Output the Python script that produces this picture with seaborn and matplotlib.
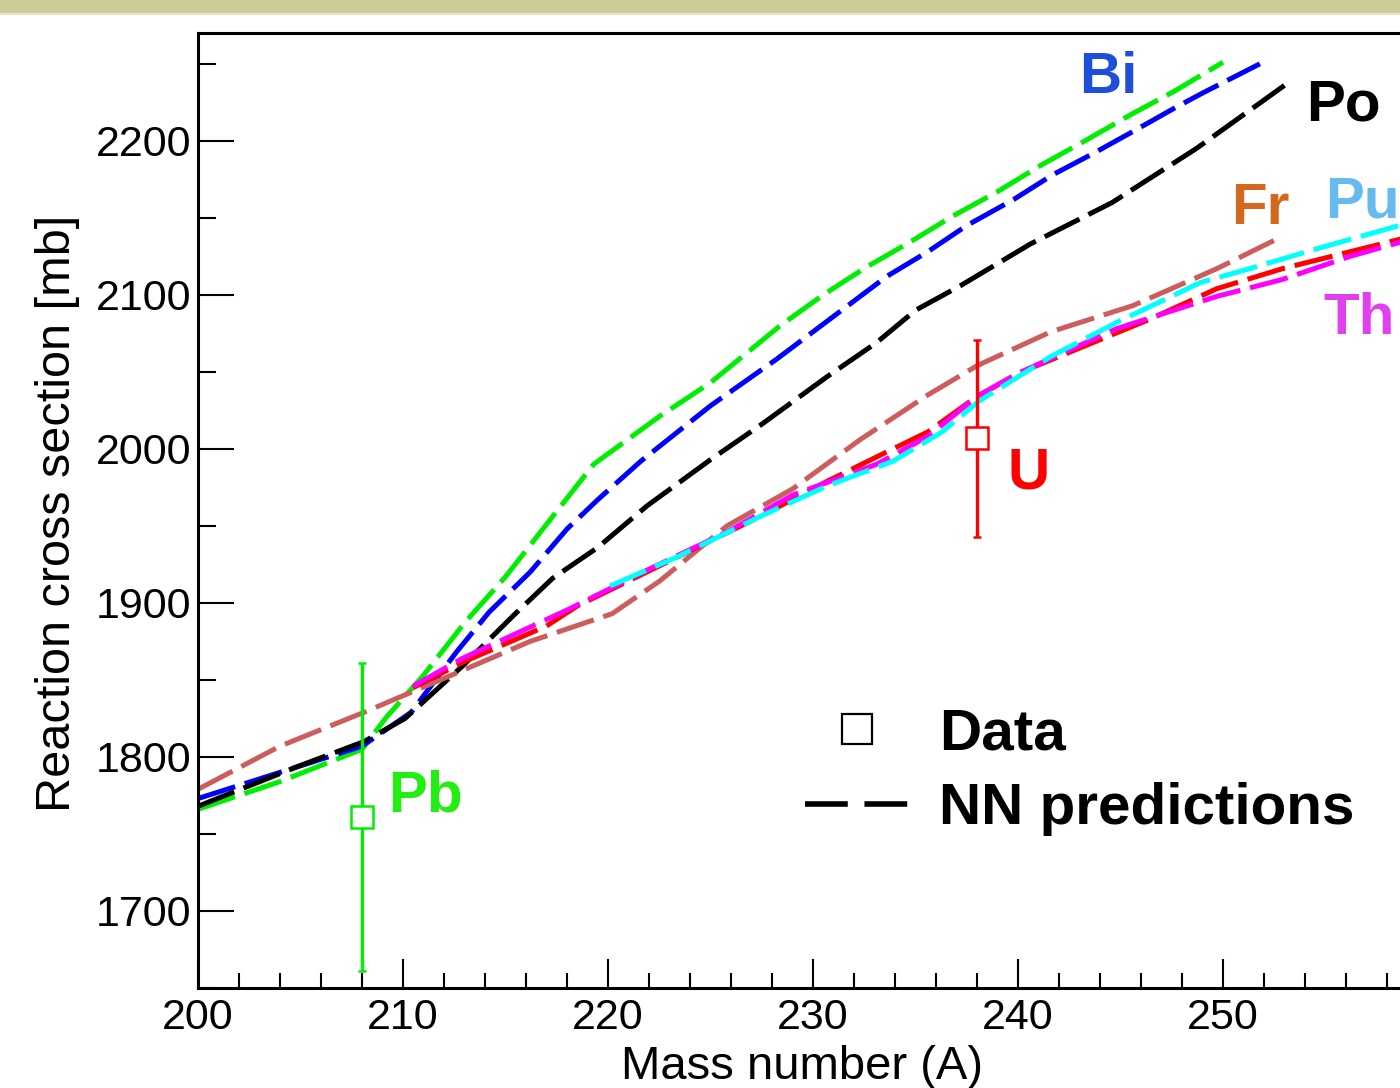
import pandas as pd
import seaborn as sns
import matplotlib.pyplot as plt
from matplotlib.lines import Line2D
from matplotlib.patches import Rectangle
from matplotlib.ticker import MultipleLocator

# NN predictions (mass number A, sigma in mb)
pb_A = [200, 204, 208, 209.2, 211, 213, 215, 217, 219.3, 222.5, 225, 228.4, 230.5, 232.6, 234.7,
        236.8, 239, 241.1, 243.4, 245.5, 247.6, 250]
pb_s = [1766, 1784, 1805, 1826, 1853, 1887, 1917, 1951, 1990, 2021, 2043, 2080, 2100, 2118, 2134,
        2151, 2167, 2184, 2201, 2217, 2232, 2251]

bi_A = [200, 204, 208, 210.4, 212.6, 214.2, 216.2, 218, 219.5, 221.6, 225, 228.2, 231.7, 233.6,
        235.6, 237.5, 239.8, 241.7, 243.7, 245.6, 247.6, 249, 251.8]
bi_s = [1773, 1790, 1807, 1829, 1868, 1894, 1920, 1948, 1967, 1992, 2028, 2058, 2093, 2112,
        2128, 2145, 2162, 2178, 2192, 2206, 2221, 2231, 2250]

po_A = [200, 204.9, 208.1, 210.1, 211.5, 212.9, 215.4, 217.3, 219.5, 221.9, 225, 227.5, 230.7,
        233.1, 235, 237.2, 240.6, 244.6, 248.7, 253]
po_s = [1768, 1794, 1810, 1825, 1842, 1859, 1892, 1916, 1936, 1963, 1993, 2016, 2047,
        2069, 2090, 2106, 2133, 2160, 2195, 2236]

fr_A = [200, 204, 208.1, 212.7, 216.2, 220.2, 222.5, 225.8, 229, 232.3, 235.6, 238, 241.6, 245.6, 249.7, 252.9]
fr_s = [1779, 1807, 1829, 1855, 1875, 1893, 1914, 1950, 1974, 2006, 2035, 2054, 2076, 2093, 2117, 2138]

u_A = [210.5, 213, 214.4, 217, 218.5, 222.5, 227.4, 230.7, 233.9, 235.6, 238, 240, 246.4, 249.7,
       252.9, 256.2, 258.6, 260]
u_s = [1845, 1862, 1870, 1885, 1898, 1924, 1956, 1979, 2000, 2011, 2034, 2049, 2084, 2104,
       2117, 2128, 2136, 2140]

th_A = [210.5, 212.9, 218.1, 221.7, 225.8, 229, 233.1, 235.6, 238, 240, 244.8, 249.7, 252.9,
        256.2, 258.6, 260]
th_s = [1846, 1864, 1896, 1920, 1946, 1970, 1990, 2008, 2034, 2049, 2078, 2099, 2110,
        2125, 2134, 2139]

pu_A = [220.1, 223.4, 227.4, 230.7, 233.9, 236.3, 238.1, 241.6, 244.8, 248.9, 251.3, 254.6, 258.6, 260]
pu_s = [1911, 1930, 1956, 1976, 1992, 2011, 2031, 2060, 2082, 2108, 2117, 2130, 2145, 2150]

# measured data points
data_A = [208, 238]
data_s = [1761, 2007]
data_err = [100, 64]
data_col = ["#00ee00", "#ff0000"]

nuclei = ["Pb", "Bi", "Po", "Fr", "U", "Th", "Pu"]
line_col = {"Pb": "#00ee00", "Bi": "#0000ff", "Po": "#000000", "Fr": "#cd5c5c",
            "U": "#ff0000", "Th": "#ff00ff", "Pu": "#00ffff"}

frames = []
for name, xs, ys in [("Pb", pb_A, pb_s), ("Bi", bi_A, bi_s), ("Po", po_A, po_s),
                     ("Fr", fr_A, fr_s), ("U", u_A, u_s), ("Th", th_A, th_s),
                     ("Pu", pu_A, pu_s)]:
    frames.append(pd.DataFrame({"A": xs, "sigma": ys, "nucleus": name}))
df = pd.concat(frames, ignore_index=True)

sns.set_theme(style="white")
plt.rcParams["font.family"] = ["Liberation Sans", "DejaVu Sans"]
plt.rcParams["text.color"] = "black"
plt.rcParams["axes.labelcolor"] = "black"
plt.rcParams["xtick.color"] = "black"
plt.rcParams["ytick.color"] = "black"

fig = plt.figure(figsize=(14, 10.88), dpi=100)
fig.patches.append(Rectangle((0, 1 - 13 / 1088), 1, 13 / 1088, transform=fig.transFigure,
                             facecolor="#cdcc99", edgecolor="none"))
fig.patches.append(Rectangle((0, 1 - 15 / 1088), 1, 2 / 1088, transform=fig.transFigure,
                             facecolor="#e6e6c4", edgecolor="none"))

ax = fig.add_axes([198 / 1400, 100 / 1088, 1230 / 1400, 955 / 1088])

sns.lineplot(data=df, x="A", y="sigma", hue="nucleus", hue_order=nuclei,
             palette=line_col, style="nucleus", style_order=nuclei,
             dashes={n: (7.8, 2.0) for n in nuclei}, linewidth=3.6,
             sort=False, estimator=None, legend=False, ax=ax)

for a, s, e, c in zip(data_A, data_s, data_err, data_col):
    ax.errorbar([a], [s], yerr=[e], fmt="s", color=c, mfc="white", mec=c,
                ms=15.5, mew=1.8, elinewidth=2.4, capsize=3, capthick=3.2, zorder=5)

ax.set_xlim(200, 260)
ax.set_ylim(1650, 2270)
ax.set_xticks(range(200, 251, 10))
ax.xaxis.set_minor_locator(MultipleLocator(2))
ax.yaxis.set_major_locator(MultipleLocator(100))
ax.yaxis.set_minor_locator(MultipleLocator(50))
ax.tick_params(axis="x", which="major", direction="in", length=21, width=1.5,
               labelsize=31, pad=7, bottom=True, top=False)
ax.tick_params(axis="x", which="minor", direction="in", length=11, width=1.5,
               bottom=True, top=False)
ax.tick_params(axis="y", which="major", direction="in", length=26, width=1.5,
               labelsize=31, pad=5, left=True, right=False)
ax.tick_params(axis="y", which="minor", direction="in", length=13, width=1.5,
               left=True, right=False)
for sp in ax.spines.values():
    sp.set_linewidth(2.2)
    sp.set_color("black")

ax.set_xlabel("Mass number (A)", fontsize=34)
ax.set_ylabel("Reaction cross section [mb]", fontsize=35)
ax.xaxis.set_label_coords(0.491, -0.06)
ax.yaxis.label.set_va("center")
ax.yaxis.set_label_coords(-0.114, 0.497)

# element labels
lab_kw = dict(fontsize=42, fontweight="bold", va="center")
ax.text(244.4, 2241, "Bi", color="#1f4fd8", ha="center", **lab_kw)
ax.text(255.85, 2223, "Po", color="black", ha="center", **lab_kw)
ax.text(251.8, 2156, "Fr", color="#d2691e", ha="center", **lab_kw)
ax.text(255.0, 2160, "Pu", color="#66bbee", ha="left", **lab_kw)
ax.text(254.9, 2084, "Th", color="#e040f0", ha="left", **lab_kw)
ax.text(240.5, 1984, "U", color="#ff0000", ha="center", **lab_kw)
ax.text(211.1, 1774, "Pb", color="#22ee11", ha="center", **lab_kw)

handles = [Line2D([], [], marker="s", ls="none", mfc="white", mec="black", ms=21, mew=1.6),
           Line2D([], [], color="black", lw=4, ls=(0, (7.7, 3)))]
fig.legend(handles, ["Data", "NN predictions"], loc="upper left",
           bbox_to_anchor=(805 / 1400, 1 - 707 / 1088), frameon=False,
           prop={"size": 42, "weight": "bold"}, handlelength=1.8,
           handletextpad=0.5, labelspacing=0.36, borderpad=0, borderaxespad=0)

fig.savefig("out.png", dpi=100)
